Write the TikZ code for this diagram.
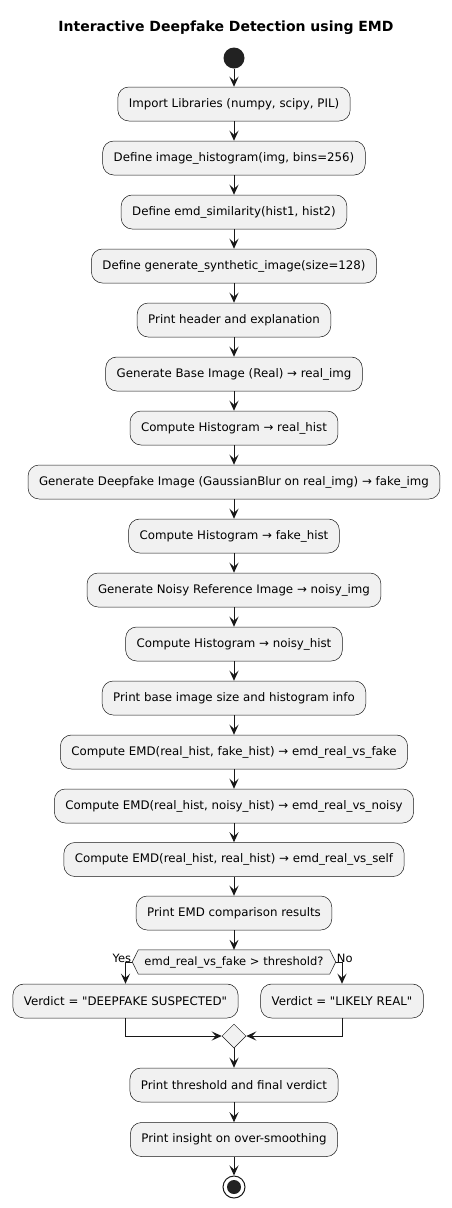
\documentclass[tikz,border=0pt]{standalone}
\usepackage{fontspec}
\setmainfont{DejaVu Sans}[Ligatures=TeXOff]
\usetikzlibrary{arrows.meta,shapes.geometric,backgrounds}
\definecolor{boxfill}{HTML}{F1F1F1}
\definecolor{boxline}{HTML}{181818}
\definecolor{dot}{HTML}{222222}
\tikzset{
  act/.style={draw=boxline, line width=0.5pt, fill=boxfill, rounded corners=11pt,
    minimum height=34pt, inner xsep=11pt, inner ysep=0pt, font=\fontsize{11.8}{14}\selectfont, text=black},
  arr/.style={draw=boxline, line width=1pt, -{Stealth[length=10pt,width=9pt,inset=4pt]}},
  lbl/.style={font=\fontsize{11.5}{13}\selectfont, inner sep=0pt},
}
\begin{document}
\begin{tikzpicture}[x=1pt,y=-1pt]
\useasboundingbox (0,0) rectangle (452,1208);
\node[font=\bfseries\fontsize{14}{16}\selectfont] (title) at (226,28) {Interactive Deepfake Detection using EMD};
\node[circle, fill=dot, minimum size=21pt, inner sep=0pt] (start) at (234,58) {};
\node[act] (b1) at (234,104) {Import Libraries (numpy, scipy, PIL)};
\node[act] (b2) at (234,158) {Define image\_histogram(img, bins=256)};
\node[act] (b3) at (234,212) {Define emd\_similarity(hist1, hist2)};
\node[act] (b4) at (234,266) {Define generate\_synthetic\_image(size=128)};
\node[act] (b5) at (234,320) {Print header and explanation};
\node[act] (b6) at (234,374) {Generate Base Image (Real) → real\_img};
\node[act] (b7) at (234,428) {Compute Histogram → real\_hist};
\node[act] (b8) at (234,482) {Generate Deepfake Image (GaussianBlur on real\_img) → fake\_img};
\node[act] (b9) at (234,536) {Compute Histogram → fake\_hist};
\node[act] (b10) at (234,590) {Generate Noisy Reference Image → noisy\_img};
\node[act] (b11) at (234,644) {Compute Histogram → noisy\_hist};
\node[act] (b12) at (234,698) {Print base image size and histogram info};
\node[act] (b13) at (234,752) {Compute EMD(real\_hist, fake\_hist) → emd\_real\_vs\_fake};
\node[act] (b14) at (234,806) {Compute EMD(real\_hist, noisy\_hist) → emd\_real\_vs\_noisy};
\node[act] (b15) at (234,859.5) {Compute EMD(real\_hist, real\_hist) → emd\_real\_vs\_self};
\node[act] (b16) at (234,913) {Print EMD comparison results};
% decision
\node[lbl, minimum height=24pt, inner xsep=12pt] (dec) at (234,962) {emd\_real\_vs\_fake > threshold?};
\begin{scope}[on background layer]
\fill[white] (0,0) rectangle (452,1208);
\filldraw[draw=boxline, line width=0.5pt, fill=boxfill]
  (dec.west) -- ([xshift=6pt]dec.north west) -- ([xshift=-6pt]dec.north east) -- (dec.east)
  -- ([xshift=-6pt]dec.south east) -- ([xshift=6pt]dec.south west) -- cycle;
\end{scope}
\node[act] (yes) at (125.5,1001) {Verdict = "DEEPFAKE SUSPECTED"};
\node[act] (no) at (342,1001) {Verdict = "LIKELY REAL"};
\node[lbl, anchor=south east] (yeslbl) at ([xshift=-1pt,yshift=-1pt]dec.west) {Yes};
\node[lbl, anchor=south west] (nolbl) at ([xshift=1pt,yshift=-1pt]dec.east) {No};
\node[diamond, draw=boxline, line width=0.5pt, fill=boxfill, minimum width=24pt, minimum height=24pt, inner sep=0pt] (merge) at (234,1036) {};
\node[act] (b17) at (234,1085) {Print threshold and final verdict};
\node[act] (b18) at (234,1139.5) {Print insight on over-smoothing};
\node[circle, draw=boxline, line width=1pt, fill=white, minimum size=22pt, inner sep=0pt] (stop) at (234,1187) {};
\node[circle, fill=dot, minimum size=14pt, inner sep=0pt] (stopin) at (234,1187) {};
% arrows
\draw[arr] (start) -- (b1);
\draw[arr] (b1) -- (b2);
\draw[arr] (b2) -- (b3);
\draw[arr] (b3) -- (b4);
\draw[arr] (b4) -- (b5);
\draw[arr] (b5) -- (b6);
\draw[arr] (b6) -- (b7);
\draw[arr] (b7) -- (b8);
\draw[arr] (b8) -- (b9);
\draw[arr] (b9) -- (b10);
\draw[arr] (b10) -- (b11);
\draw[arr] (b11) -- (b12);
\draw[arr] (b12) -- (b13);
\draw[arr] (b13) -- (b14);
\draw[arr] (b14) -- (b15);
\draw[arr] (b15) -- (b16);
\draw[arr] (b16) -- (dec.north);
\draw[arr] (dec.west) -| (yes.north);
\draw[arr] (dec.east) -| (no.north);
\draw[arr] (yes.south) |- (merge.west);
\draw[arr] (no.south) |- (merge.east);
\draw[arr] (merge) -- (b17);
\draw[arr] (b17) -- (b18);
\draw[arr] (b18) -- (stop);
\end{tikzpicture}
\end{document}
